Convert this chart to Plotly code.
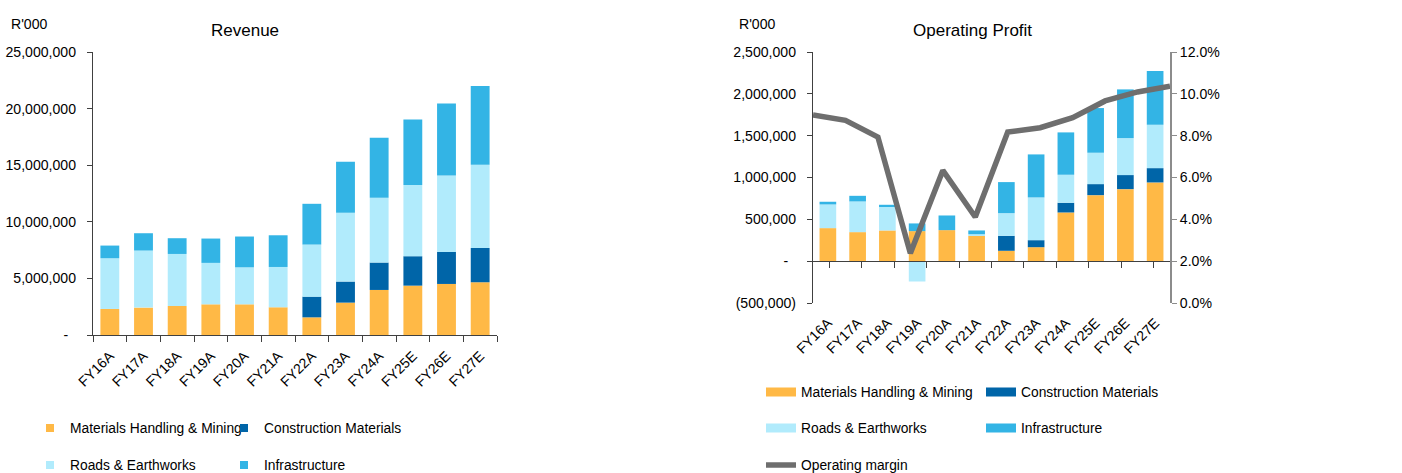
import plotly.graph_objects as go

categories = ["FY16A", "FY17A", "FY18A", "FY19A", "FY20A", "FY21A",
              "FY22A", "FY23A", "FY24A", "FY25E", "FY26E", "FY27E"]

# Revenue (R'000)
rev_mhm = [2300000, 2420000, 2560000, 2710000, 2710000, 2450000,
           1560000, 2860000, 3980000, 4360000, 4510000, 4660000]
rev_cm = [0, 0, 0, 0, 0, 0, 1830000, 1860000, 2420000, 2600000, 2830000, 3030000]
rev_re = [4480000, 5040000, 4600000, 3660000, 3270000, 3560000,
          4600000, 6070000, 5720000, 6280000, 6750000, 7350000]
rev_inf = [1120000, 1530000, 1390000, 2150000, 2720000, 2800000,
           3600000, 4510000, 5300000, 5800000, 6370000, 6950000]

# Operating profit (R'000)
op_mhm = [395000, 347000, 367000, 359000, 371000, 303000,
          124000, 167000, 582000, 789000, 861000, 941000]
op_cm = [0, 0, 0, 0, 0, 0, 179000, 84000, 116000, 132000, 168000, 171000]
op_re = [283000, 367000, 291000, -243000, 0, 20000,
         271000, 511000, 335000, 375000, 442000, 519000]
op_inf = [32000, 67000, 16000, 92000, 175000, 44000,
          371000, 514000, 506000, 534000, 582000, 642000]
op_margin = [0.0899, 0.0873, 0.0793, 0.0238, 0.0634, 0.0411,
             0.0817, 0.0838, 0.0886, 0.0966, 0.1009, 0.1036]

segments = ["Materials Handling & Mining", "Construction Materials",
            "Roads & Earthworks", "Infrastructure"]
colors = ["#FFB946", "#0065A8", "#B1EBFC", "#33B4E5"]

rev_left_ticks = [0, 5000000, 10000000, 15000000, 20000000, 25000000]
rev_left_text = ["-\u00a0\u00a0", "5,000,000", "10,000,000", "15,000,000", "20,000,000", "25,000,000"]
op_left_ticks = [-500000, 0, 500000, 1000000, 1500000, 2000000, 2500000]
op_left_text = ["(500,000)", "-\u00a0\u00a0", "500,000", "1,000,000", "1,500,000", "2,000,000", "2,500,000"]
op_right_ticks = [0, 0.02, 0.04, 0.06, 0.08, 0.10, 0.12]

FONT = "Liberation Sans, Arial, sans-serif"
FS = 14.1
LFS = 13.8
W, H = 1402, 473

def px_x(p):
    return p / W

def px_y(p):
    return (H - p) / H

fig = go.Figure()

rev_data = [rev_mhm, rev_cm, rev_re, rev_inf]
op_data = [op_mhm, op_cm, op_re, op_inf]
left_legends = ["legend", "legend", "legend2", "legend2"]
right_legends = ["legend3", "legend3", "legend4", "legend4"]

for name, col, vals in zip(segments, colors, rev_data):
    fig.add_trace(go.Bar(x=categories, y=vals, name=name, marker=dict(color=col, line=dict(width=0)),
                         xaxis="x", yaxis="y", showlegend=False))

for name, col, vals in zip(segments, colors, op_data):
    fig.add_trace(go.Bar(x=categories, y=vals, name=name, marker=dict(color=col, line=dict(width=0)),
                         xaxis="x2", yaxis="y2", showlegend=False))

# legend keys for the left chart (small squares)
for name, col, lg in zip(segments, colors, left_legends):
    fig.add_trace(go.Scatter(x=[None], y=[None], mode="markers", name=name,
                             marker=dict(color=col, size=8, symbol="square", line=dict(width=0)),
                             xaxis="x", yaxis="y", legend=lg, showlegend=True))

# legend keys for the right chart (wide line-style keys)
for name, col, lg in zip(segments, colors, right_legends):
    fig.add_trace(go.Scatter(x=[None], y=[None], mode="lines", name=name,
                             line=dict(color=col, width=9), xaxis="x2", yaxis="y2",
                             legend=lg, showlegend=True))

fig.add_trace(go.Scatter(x=categories, y=op_margin, mode="lines", name="Operating margin",
                         line=dict(color="#6E6E6E", width=5.5), xaxis="x4", yaxis="y3",
                         legend="legend5", showlegend=True))

L_x0, L_x1 = px_x(93), px_x(497)
L_y0, L_y1 = px_y(335), px_y(52)
R_x0, R_x1 = px_x(813), px_x(1170)
R_y0, R_y1 = px_y(303), px_y(52)
zero_pos = R_y0 + (R_y1 - R_y0) * (500000 / 3000000)

tickfont = dict(family=FONT, size=FS, color="#000000")

leg_common = dict(orientation="h", font=dict(family=FONT, size=LFS, color="#000000"),
                  bgcolor="rgba(0,0,0,0)", xanchor="left", yanchor="middle",
                  entrywidthmode="pixels", traceorder="normal", tracegroupgap=0,
                  itemclick=False, itemdoubleclick=False)

fig.update_layout(
    width=W, height=H,
    margin=dict(l=0, r=0, t=0, b=0, autoexpand=False),
    paper_bgcolor="white", plot_bgcolor="white",
    barmode="relative", bargap=0.44,
    showlegend=True,
    xaxis=dict(domain=[L_x0, L_x1], anchor="y", type="category", tickangle=-45,
               tickfont=tickfont, showline=True, linecolor="#404040", linewidth=1.3,
               ticks="outside", tickson="boundaries", ticklen=6, tickcolor="#404040",
               ticklabelstandoff=6,
               showgrid=False, zeroline=False, fixedrange=True),
    yaxis=dict(domain=[L_y0, L_y1], anchor="x", range=[0, 25000000],
               tickvals=rev_left_ticks, ticktext=rev_left_text, tickfont=tickfont,
               showline=True, linecolor="#404040", linewidth=1.3, ticks="outside",
               ticklen=5, tickcolor="#404040", ticklabelstandoff=8,
               showgrid=False, zeroline=False, fixedrange=True),
    xaxis2=dict(domain=[R_x0, R_x1], anchor="y2", type="category", tickangle=-45,
                tickfont=tickfont, showline=False, ticks="", ticklabelstandoff=8,
                showgrid=False, zeroline=False, fixedrange=True),
    yaxis2=dict(domain=[R_y0, R_y1], anchor="x2", range=[-500000, 2500000],
                tickvals=op_left_ticks, ticktext=op_left_text, tickfont=tickfont,
                showline=True, linecolor="#404040", linewidth=1.3, ticks="outside",
                ticklen=5, tickcolor="#404040", ticklabelstandoff=8,
                showgrid=False, zeroline=False, fixedrange=True),
    xaxis4=dict(domain=[R_x0, R_x1], overlaying="x2", anchor="free", position=zero_pos,
                type="category", showticklabels=False, showline=True, linecolor="#404040",
                linewidth=1.3, ticks="outside", tickson="boundaries", ticklen=6,
                tickcolor="#404040", showgrid=False, zeroline=False, fixedrange=True),
    yaxis3=dict(overlaying="y2", side="right", anchor="x4", range=[0, 0.12],
                tickvals=op_right_ticks, tickformat=".1%", tickfont=tickfont,
                showline=True, linecolor="#8C8C8C", linewidth=2, ticks="outside",
                ticklen=5, tickcolor="#8C8C8C", showgrid=False, zeroline=False, fixedrange=True),
    legend=dict(x=px_x(30), y=px_y(428), entrywidth=149, **leg_common),
    legend2=dict(x=px_x(30), y=px_y(465), entrywidth=149, **leg_common),
    legend3=dict(x=px_x(761), y=px_y(392), entrywidth=175, **leg_common),
    legend4=dict(x=px_x(761), y=px_y(428), entrywidth=175, **leg_common),
    legend5=dict(x=px_x(761), y=px_y(465), entrywidth=175, **leg_common),
    annotations=[
        dict(text="Revenue", x=px_x(245), y=px_y(31), xref="paper", yref="paper",
             showarrow=False, font=dict(family=FONT, size=17, color="#000000"),
             xanchor="center", yanchor="middle"),
        dict(text="R'000", x=px_x(9), y=px_y(24), xref="paper", yref="paper",
             showarrow=False, font=dict(family=FONT, size=FS, color="#000000"),
             xanchor="left", yanchor="middle"),
        dict(text="Operating Profit", x=px_x(972), y=px_y(31), xref="paper", yref="paper",
             showarrow=False, font=dict(family=FONT, size=17, color="#000000"),
             xanchor="center", yanchor="middle"),
        dict(text="R'000", x=px_x(737), y=px_y(24), xref="paper", yref="paper",
             showarrow=False, font=dict(family=FONT, size=FS, color="#000000"),
             xanchor="left", yanchor="middle"),
    ],
)

fig.write_html("out.html")
